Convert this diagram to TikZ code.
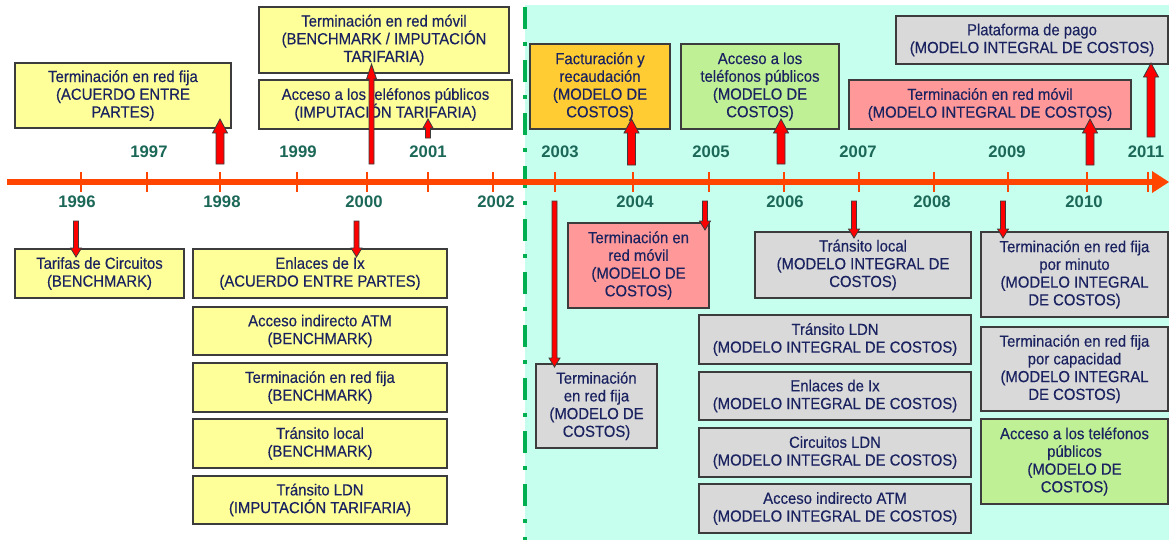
\documentclass[tikz,border=0pt]{standalone}
\usepackage{fontspec}
\setmainfont{Liberation Sans}
\newfontfamily\boxfont[FakeStretch=0.93,FakeBold=0.35]{Liberation Sans}
\definecolor{bgcyan}{RGB}{198,255,238}
\definecolor{dashgreen}{RGB}{0,176,80}
\definecolor{tlred}{RGB}{255,69,0}
\definecolor{txt}{RGB}{26,34,96}
\definecolor{yeartxt}{RGB}{28,104,88}
\definecolor{fyel}{RGB}{255,255,153}
\definecolor{forg}{RGB}{255,204,51}
\definecolor{fgrn}{RGB}{192,240,150}
\definecolor{fpnk}{RGB}{255,153,153}
\definecolor{fgry}{RGB}{217,217,217}
\definecolor{bord}{RGB}{60,60,60}
\tikzset{
  bxs/.style={draw=bord, line width=1pt, inner sep=0pt, align=center, text=txt,
    font=\boxfont\fontsize{12}{13.3}\selectfont},
  yr/.style={text=yeartxt, font=\fontsize{12.5}{14}\selectfont\bfseries, inner sep=0pt},
  arr/.style={fill=red, draw=bord, line width=0.6pt, line join=miter},
  tick/.style={draw=tlred, line width=2.2pt}
}
\newcommand\bx[7]{\node[bxs, fill=#6, minimum width={(#4-#2)*0.75pt}, minimum height={(#5-#3)*0.75pt}] (#1) at ({(#2+#4)/2},{(#3+#5)/2}) {#7};}
\newcommand\upar[6]{\filldraw[arr] ({#1-#4/2},#2) -- ({#1-#4/2},{#3+#6}) -- ({#1-#5/2},{#3+#6}) -- (#1,#3) -- ({#1+#5/2},{#3+#6}) -- ({#1+#4/2},{#3+#6}) -- ({#1+#4/2},#2) -- cycle;}
\newcommand\dnar[6]{\filldraw[arr] ({#1-#4/2},#2) -- ({#1-#4/2},{#3-#6}) -- ({#1-#5/2},{#3-#6}) -- (#1,#3) -- ({#1+#5/2},{#3-#6}) -- ({#1+#4/2},{#3-#6}) -- ({#1+#4/2},#2) -- cycle;}
\begin{document}
\begin{tikzpicture}[x=0.75pt,y=-0.75pt]
\useasboundingbox (0,0) rectangle (1169,540);
\fill[white] (0,0) rectangle (1169,540);
% background region
\fill[bgcyan] (525,5) rectangle (1169,540);
\draw[dashgreen, line width=3pt, dash pattern=on 16.5pt off 9.75pt on 3pt off 10.5pt] (525,7) -- (525,540);
% timeline
\draw[tlred, line width=5.2pt] (7,182) -- (1156,182);
\fill[tlred] (1152,171) -- (1169,182) -- (1152,193) -- cycle;
\foreach \x in {81,147,220,297,367,428,493,555,633,709,784,859,934,1008,1087,1148}
  \draw[tick] (\x,172) -- (\x,192);
% years
\foreach \x/\y in {149/1997,298/1999,428/2001,560/2003,711/2005,858/2007,1007/2009,1146/2011}
  \node[yr] at (\x,152) {\y};
\foreach \x/\y in {77/1996,222/1998,364/2000,496/2002,635/2004,785/2006,932/2008,1084/2010}
  \node[yr] at (\x,202) {\y};
% upper left boxes
\bx{b1}{15}{63}{231}{128}{fyel}{Terminación en red fija\\(ACUERDO ENTRE\\PARTES)}
\bx{b2}{259}{7}{509}{73}{fyel}{Terminación en red móvil\\(BENCHMARK / IMPUTACIÓN\\TARIFARIA)}
\bx{b3}{259}{80}{512}{129}{fyel}{Acceso a los teléfonos públicos\\(IMPUTACIÓN TARIFARIA)}
% lower left boxes
\bx{b4}{15}{249}{184}{298}{fyel}{Tarifas de Circuitos\\(BENCHMARK)}
\bx{b5}{193}{249}{447}{298}{fyel}{Enlaces de Ix\\(ACUERDO ENTRE PARTES)}
\bx{b6}{193}{307}{447}{355}{fyel}{Acceso indirecto ATM\\(BENCHMARK)}
\bx{b7}{193}{363}{447}{412}{fyel}{Terminación en red fija\\(BENCHMARK)}
\bx{b8}{193}{419}{447}{468}{fyel}{Tránsito local\\(BENCHMARK)}
\bx{b9}{193}{476}{447}{524}{fyel}{Tránsito LDN\\(IMPUTACIÓN TARIFARIA)}
% upper right boxes
\bx{b10}{530}{44}{670}{129}{forg}{Facturación y\\recaudación\\(MODELO DE\\COSTOS)}
\bx{b11}{681}{44}{839}{129}{fgrn}{Acceso a los\\teléfonos públicos\\(MODELO DE\\COSTOS)}
\bx{b12}{896}{16}{1168}{64}{fgry}{Plataforma de pago\\(MODELO INTEGRAL DE COSTOS)}
\bx{b13}{849}{80}{1131}{129}{fpnk}{Terminación en red móvil\\(MODELO INTEGRAL DE COSTOS)}
% lower right boxes
\bx{b14}{568}{223}{709}{308}{fpnk}{Terminación en\\red móvil\\(MODELO DE\\COSTOS)}
\bx{b15}{536}{364}{657}{448}{fgry}{Terminación\\en red fija\\(MODELO DE\\COSTOS)}
\bx{b16}{755}{232}{971}{298}{fgry}{Tránsito local\\(MODELO INTEGRAL DE\\COSTOS)}
\bx{b17}{699}{315}{971}{364}{fgry}{Tránsito LDN\\(MODELO INTEGRAL DE COSTOS)}
\bx{b18}{699}{372}{971}{420}{fgry}{Enlaces de Ix\\(MODELO INTEGRAL DE COSTOS)}
\bx{b19}{699}{428}{971}{477}{fgry}{Circuitos LDN\\(MODELO INTEGRAL DE COSTOS)}
\bx{b20}{699}{484}{971}{533}{fgry}{Acceso indirecto ATM\\(MODELO INTEGRAL DE COSTOS)}
\bx{b21}{981}{232}{1168}{317}{fgry}{Terminación en red fija\\por minuto\\(MODELO INTEGRAL\\DE COSTOS)}
\bx{b22}{981}{327}{1168}{411}{fgry}{Terminación en red fija\\por capacidad\\(MODELO INTEGRAL\\DE COSTOS)}
\bx{b23}{981}{419}{1168}{504}{fgrn}{Acceso a los teléfonos\\públicos\\(MODELO DE\\COSTOS)}
% up arrows
\upar{220}{164}{119}{8}{15}{14}
\upar{371.5}{164}{64}{5}{10}{15}
\upar{428}{138}{119}{5}{10}{9}
\upar{631.5}{165}{119}{8}{15}{14}
\upar{781}{164}{119}{8}{15}{14}
\upar{1090}{165}{119}{8}{15}{14}
\upar{1151}{137}{63}{8}{15}{14}
% down arrows
\dnar{76}{221}{257}{5}{11}{9}
\dnar{356.5}{221}{257}{5}{11}{9}
\dnar{554.5}{201}{367}{5}{11}{9}
\dnar{705}{201}{230}{5}{11}{9}
\dnar{854}{201}{238}{5}{11}{9}
\dnar{1003}{201}{238}{5}{11}{9}
\end{tikzpicture}
\end{document}
